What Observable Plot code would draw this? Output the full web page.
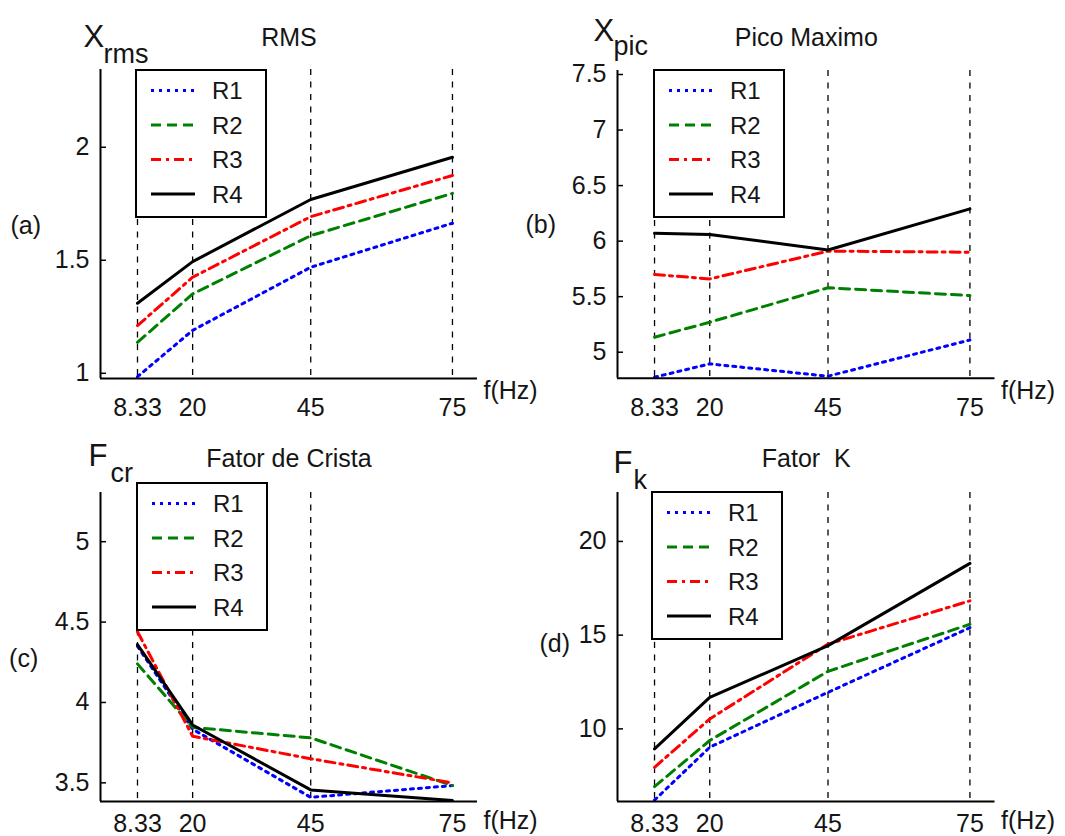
<!DOCTYPE html>
<html>
<head>
<meta charset="utf-8">
<script src="https://cdn.jsdelivr.net/npm/d3@7"></script>
<script src="https://cdn.jsdelivr.net/npm/@observablehq/plot@0.6"></script>
<style>
  html, body { margin: 0; padding: 0; background: #fff; }
  #fig { position: relative; width: 1065px; height: 836px; overflow: hidden; background: #fff;
         font-family: "Liberation Sans", Arial, sans-serif; }
  .panel { position: absolute; }
  .panel svg { overflow: visible; }
  .legend { position: absolute; overflow: visible; }
</style>
</head>
<body>
<div id="fig"></div>
<script>
// Excitation frequencies (Hz) and their tick labels
const freqs = [8.33, 20, 45, 75];
const freqLabels = ["8.33", "20", "45", "75"];
const series = ["R1", "R2", "R3", "R4"];

// (a) RMS value
const rmsR1 = [0.985, 1.19, 1.469, 1.664];
const rmsR2 = [1.137, 1.351, 1.609, 1.796];
const rmsR3 = [1.211, 1.425, 1.693, 1.875];
const rmsR4 = [1.31, 1.494, 1.769, 1.956];
const rmsTicks = [1, 1.5, 2];

// (b) Maximum peak
const picR1 = [4.775, 4.895, 4.784, 5.11];
const picR2 = [5.135, 5.27, 5.58, 5.51];
const picR3 = [5.70, 5.66, 5.91, 5.90];
const picR4 = [6.07, 6.06, 5.92, 6.29];
const picTicks = [5, 5.5, 6, 6.5, 7, 7.5];

// (c) Crest factor
const crR1 = [4.35, 3.834, 3.41, 3.483];
const crR2 = [4.24, 3.845, 3.78, 3.483];
const crR3 = [4.44, 3.79, 3.65, 3.50];
const crR4 = [4.36, 3.86, 3.456, 3.39];
const crTicks = [3.5, 4, 4.5, 5];

// (d) K factor
const kR1 = [6.2, 9.02, 11.95, 15.4];
const kR2 = [6.92, 9.38, 13.07, 15.58];
const kR3 = [7.95, 10.53, 14.52, 16.83];
const kR4 = [8.93, 11.68, 14.44, 18.83];
const kTicks = [10, 15, 20];

const xDomain = [0.5, 80.3];

const seriesColor = { R1: "#0000ff", R2: "#008000", R3: "#ff0000", R4: "#000000" };
const seriesDash = { R1: "3,5", R2: "10,6", R3: "10,5,3,5", R4: null };
const ink = "#151515";

const panels = [
  { title: "RMS", sym: "X", sub: "rms", tag: "(a)",
    values: [rmsR1, rmsR2, rmsR3, rmsR4], yDomain: [0.977, 2.344], yTicks: rmsTicks, grid: freqs,
    left: 0, top: 0, width: 530, height: 418, ml: 100, mr: 53, mt: 69, mb: 40,
    titleDy: -31.5, symD: [-17, -32], subD: [3, -15], tagD: [-90, 2], hzDy: 12, xGap: 20,
    legend: [135, 69] },
  { title: "Pico Maximo", sym: "X", sub: "pic", tag: "(b)",
    values: [picR1, picR2, picR3, picR4], yDomain: [4.766, 7.536], yTicks: picTicks, grid: freqs,
    left: 520, top: 0, width: 545, height: 418, ml: 97, mr: 70.5, mt: 70, mb: 40.3,
    titleDy: -32.5, symD: [-24, -39.5], subD: [-4, -24], tagD: [-92, 1], hzDy: 13, xGap: 20,
    legend: [653, 69] },
  { title: "Fator de Crista", sym: "F", sub: "cr", tag: "(c)",
    values: [crR1, crR2, crR3, crR4], yDomain: [3.384, 5.306], yTicks: crTicks, grid: [8.33, 20, 45],
    left: 0, top: 418, width: 530, height: 418, ml: 100, mr: 53, mt: 74, mb: 35,
    titleDy: -33.3, symD: [-12, -36.5], subD: [10, -19], tagD: [-91.4, 12], hzDy: 19, xGap: 13,
    legend: [136, 482] },
  { title: "Fator  K", sym: "F", sub: "k", tag: "(d)",
    values: [kR1, kR2, kR3, kR4], yDomain: [6.125, 22.61], yTicks: kTicks, grid: freqs,
    left: 520, top: 418, width: 545, height: 418, ml: 97, mr: 70.5, mt: 74, mb: 35,
    titleDy: -33.3, symD: [-4, -29.5], subD: [16, -12.5], tagD: [-78, -3.5], hzDy: 19, xGap: 13,
    legend: [651, 491] }
];

const fig = document.getElementById("fig");

function drawPanel(cfg) {
  const fw = cfg.width - cfg.ml - cfg.mr;
  const rows = series.flatMap((s, i) => freqs.map((f, j) => ({ s, f, v: cfg.values[i][j] })));
  const txt = { fill: ink, fontFamily: "Liberation Sans, Arial, sans-serif" };
  const chart = Plot.plot({
    width: cfg.width,
    height: cfg.height,
    marginLeft: cfg.ml,
    marginRight: cfg.mr,
    marginTop: cfg.mt,
    marginBottom: cfg.mb,
    x: { domain: xDomain, axis: null },
    y: { domain: cfg.yDomain, axis: null },
    style: { background: "transparent", overflow: "visible", fontFamily: "Liberation Sans, Arial, sans-serif" },
    marks: [
      // vertical dashed guides at the test frequencies
      Plot.ruleX(cfg.grid, { stroke: "#000", strokeWidth: 1.3, strokeDasharray: "6,6.5" }),
      // one line per rotor condition
      ...series.map(s => Plot.line(rows.filter(d => d.s === s), {
        x: "f", y: "v", stroke: seriesColor[s], strokeWidth: 3,
        strokeDasharray: seriesDash[s] || undefined, strokeLinejoin: "round"
      })),
      // left and bottom axis lines
      Plot.ruleX([xDomain[0]], { stroke: "#000", strokeWidth: 2 }),
      Plot.ruleY([cfg.yDomain[0]], { stroke: "#000", strokeWidth: 2 }),
      // inward y ticks and labels
      Plot.tickY(cfg.yTicks, { y: d => d, stroke: "#000", strokeWidth: 1.5, insetRight: fw - 6 }),
      Plot.text(cfg.yTicks, { y: d => d, frameAnchor: "left", dx: -11, textAnchor: "end",
        lineAnchor: "middle", text: d => String(d), fontSize: 25, ...txt }),
      // frequency labels
      Plot.text(freqs, { x: d => d, frameAnchor: "bottom", dy: cfg.xGap, lineAnchor: "top",
        text: (d, i) => freqLabels[i], fontSize: 25, ...txt }),
      Plot.text(["f(Hz)"], { text: d => d, frameAnchor: "bottom-right", dx: 6, dy: cfg.hzDy,
        textAnchor: "start", lineAnchor: "middle", fontSize: 25, ...txt }),
      // title, quantity symbol with subscript, panel tag
      Plot.text([cfg.title], { text: d => d, frameAnchor: "top", dy: cfg.titleDy,
        lineAnchor: "middle", fontSize: 25, ...txt }),
      Plot.text([cfg.sym], { text: d => d, frameAnchor: "top-left", dx: cfg.symD[0], dy: cfg.symD[1],
        textAnchor: "start", lineAnchor: "middle", fontSize: 31, ...txt }),
      Plot.text([cfg.sub], { text: d => d, frameAnchor: "top-left", dx: cfg.subD[0], dy: cfg.subD[1],
        textAnchor: "start", lineAnchor: "middle", fontSize: 27, ...txt }),
      Plot.text([cfg.tag], { text: d => d, frameAnchor: "left", dx: cfg.tagD[0], dy: cfg.tagD[1],
        textAnchor: "start", lineAnchor: "middle", fontSize: 25, ...txt })
    ]
  });
  const holder = document.createElement("div");
  holder.className = "panel";
  holder.style.left = cfg.left + "px";
  holder.style.top = cfg.top + "px";
  holder.appendChild(chart);
  fig.appendChild(holder);
}

function drawLegend(pos) {
  const svg = d3.select(fig).append("svg")
    .attr("class", "legend")
    .style("left", pos[0] + "px").style("top", pos[1] + "px")
    .attr("width", 133).attr("height", 150);
  svg.append("rect").attr("x", 1).attr("y", 1).attr("width", 130).attr("height", 147)
    .attr("fill", "#fff").attr("stroke", "#000").attr("stroke-width", 2);
  series.forEach((s, i) => {
    const cy = 21.5 + i * 34.5;
    svg.append("line").attr("x1", 16).attr("x2", 60).attr("y1", cy).attr("y2", cy)
      .attr("stroke", seriesColor[s]).attr("stroke-width", 3)
      .attr("stroke-dasharray", seriesDash[s]);
    svg.append("text").attr("x", 77).attr("y", cy).attr("dy", "0.36em")
      .attr("font-size", 24).attr("fill", ink)
      .attr("font-family", "Liberation Sans, Arial, sans-serif").text(s);
  });
}

panels.forEach(drawPanel);
panels.forEach(p => drawLegend(p.legend));
</script>
</body>
</html>
